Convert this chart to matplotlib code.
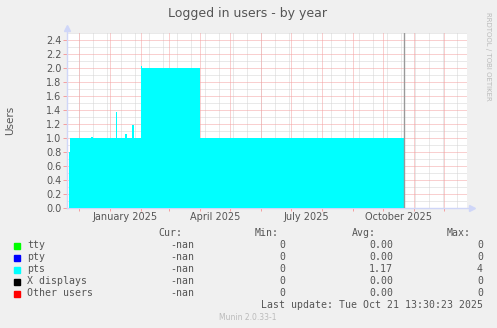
import matplotlib
matplotlib.use("Agg")
import matplotlib.pyplot as plt
import matplotlib.transforms as mtransforms
import pandas as pd

# pts series (step values, each holds until the next date)
pts_dates = ["2024-11-21", "2024-11-22", "2024-12-13", "2024-12-15",
             "2025-01-07", "2025-01-08", "2025-01-16", "2025-01-18",
             "2025-01-23", "2025-01-25", "2025-02-01", "2025-02-02",
             "2025-04-01", "2025-10-21 13:30:23"]
pts_values = [0.8, 1.0, 1.02, 1.0,
              1.37, 1.0, 1.06, 1.0,
              1.18, 1.0, 2.03, 2.0,
              1.0, 1.0]

month_labels = ["January 2025", "April 2025", "July 2025", "October 2025"]
label_dates = ["2025-01-16 12:00", "2025-04-16", "2025-07-16 12:00", "2025-10-16 12:00"]
y_ticks = [0.0, 0.2, 0.4, 0.6, 0.8, 1.0, 1.2, 1.4, 1.6, 1.8, 2.0, 2.2, 2.4]

legend_names = ["tty", "pty", "pts", "X displays", "Other users"]
legend_colors = ["#00FF00", "#0000FF", "#00FFFF", "#000000", "#FF0000"]
cur_vals = ["-nan", "-nan", "-nan", "-nan", "-nan"]
min_vals = ["0", "0", "0", "0", "0"]
avg_vals = ["0.00", "0.00", "1.17", "0.00", "0.00"]
max_vals = ["0", "0", "4", "0", "0"]

start = pd.Timestamp("2024-11-19")
end = pd.Timestamp("2025-12-24")
now = pd.Timestamp("2025-10-21 13:30:23")

W, H = 497, 328
fig = plt.figure(figsize=(W / 100, H / 100), dpi=100, facecolor="#F0F0F0")
ax = fig.add_axes([67 / W, (H - 208) / H, 400 / W, 175 / H])
ax.set_facecolor("white")

dates = pd.to_datetime(pts_dates, format="mixed")
ax.fill_between(dates, 0, pts_values, step="post", color="#00FFFF", lw=0, zorder=3)
ax.axvline(now, color="#999999", lw=1, zorder=4)

ax.set_xlim(start, end)
ax.set_ylim(0, 2.5)

# grid (dotted)
dot = (0, (1, 1))
minor_col = "#D4D4D4"
major_col = "#F4A0A0"
gkw = dict(lw=0.72, ls=dot)
for v in [i / 10 for i in range(1, 26, 2)]:
    ax.axhline(v, color=minor_col, zorder=1, **gkw)
for d in pd.date_range("2024-12-01", end, freq="14D"):
    ax.axvline(d, color=minor_col, zorder=1, **gkw)
for v in y_ticks:
    ax.axhline(v, color=major_col, zorder=2, **gkw)
for d in pd.date_range("2024-12-01", end, freq="MS"):
    ax.axvline(d, color=major_col, zorder=2, **gkw)

for s in ax.spines.values():
    s.set_visible(False)

ax.set_yticks(y_ticks)
ax.set_yticklabels([f"{v:.1f}" for v in y_ticks])
ax.tick_params(axis="y", length=3, width=0.72, color=major_col, pad=1,
               labelsize=7, labelcolor="#555555")
ax.set_xticks(pd.date_range("2024-12-01", end, freq="MS"))
ax.set_xticklabels([])
ax.tick_params(axis="x", length=2, width=0.72, color=major_col)

trans = mtransforms.blended_transform_factory(ax.transData, ax.transAxes)
for lab, d in zip(month_labels, label_dates):
    ax.text(pd.Timestamp(d), -0.05, lab, transform=trans, ha="center", va="center",
            fontsize=7, color="#555555")

# axes with arrows
axis_col = "#CFD6F8"
ax.plot([0, 0], [0, 1.03], transform=ax.transAxes, color=axis_col, lw=1,
        clip_on=False, zorder=5)
ax.plot([0], [1.03], transform=ax.transAxes, marker="^", ms=4, color=axis_col,
        clip_on=False, zorder=5)
ax.plot([0, 1.0125], [0, 0], transform=ax.transAxes, color=axis_col, lw=1,
        clip_on=False, zorder=2.5)
ax.plot([1.0125], [0], transform=ax.transAxes, marker=">", ms=4, color=axis_col,
        clip_on=False, zorder=5)

fig.text(248 / W, 1 - 13 / H, "Logged in users - by year", ha="center", va="center",
         fontsize=9, color="#555555")
fig.text(10 / W, 1 - 120 / H, "Users", rotation=90, ha="center", va="center",
         fontsize=7.5, color="#555555")
fig.text(488 / W, 1 - 56 / H, "RRDTOOL / TOBI OETIKER", rotation=270, ha="center",
         va="center", fontsize=5, color="#BBBBBB")

# legend
mono = "DejaVu Sans Mono"
fs = 7.1
tc = "#555555"
for x, t in [(158, "Cur:"), (255, "Min:"), (352, "Avg:"), (447, "Max:")]:
    fig.text(x / W, 1 - 233.5 / H, t, ha="left", va="center", family=mono,
             fontsize=fs, color=tc)
for i, name in enumerate(legend_names):
    y = 1 - (245.5 + 12 * i) / H
    fig.patches.append(plt.Rectangle((14 / W, y - 3 / H), 6 / W, 6 / H,
                                     transform=fig.transFigure, color=legend_colors[i]))
    fig.text(27 / W, y, name, ha="left", va="center", family=mono, fontsize=fs, color=tc)
    fig.text(194 / W, y, cur_vals[i], ha="right", va="center", family=mono, fontsize=fs, color=tc)
    fig.text(285 / W, y, min_vals[i], ha="right", va="center", family=mono, fontsize=fs, color=tc)
    fig.text(393 / W, y, avg_vals[i], ha="right", va="center", family=mono, fontsize=fs, color=tc)
    fig.text(483 / W, y, max_vals[i], ha="right", va="center", family=mono, fontsize=fs, color=tc)

fig.text(483 / W, 1 - 305.5 / H, "Last update: Tue Oct 21 13:30:23 2025", ha="right",
         va="center", family=mono, fontsize=fs, color=tc)
fig.text(248 / W, 1 - 317 / H, "Munin 2.0.33-1", ha="center", va="center",
         fontsize=5.5, color="#BBBBBB")

fig.savefig("out.png", dpi=100, facecolor=fig.get_facecolor())
